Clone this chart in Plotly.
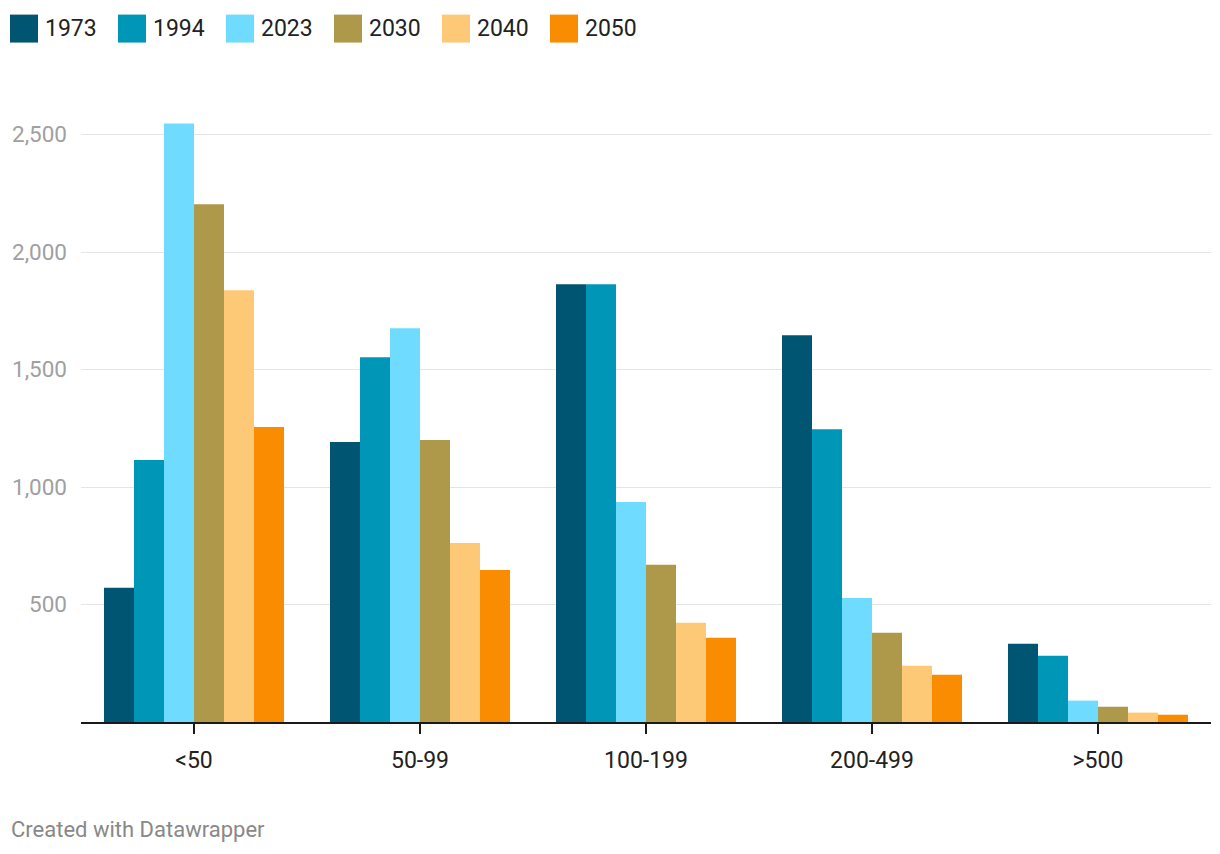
import plotly.graph_objects as go

categories = ["<50", "50-99", "100-199", "200-499", ">500"]
years = ["1973", "1994", "2023", "2030", "2040", "2050"]
values_1973 = [571, 1191, 1863, 1646, 333]
values_1994 = [1115, 1552, 1863, 1246, 282]
values_2023 = [2547, 1676, 936, 528, 91]
values_2030 = [2203, 1200, 669, 380, 65]
values_2040 = [1837, 762, 422, 239, 40]
values_2050 = [1255, 647, 358, 201, 31]
series = [values_1973, values_1994, values_2023, values_2030, values_2040, values_2050]
colors = ["#005572", "#0096b7", "#6edbff", "#ae984a", "#fec977", "#f98c00"]
y_ticks = [500, 1000, 1500, 2000, 2500]
y_tick_labels = ["500", "1,000", "1,500", "2,000", "2,500"]

W, H = 1220, 854
L, R = 81, 9
y0_px = 722.3
px_per_unit = 0.2353
ymax = 2600
plot_h = ymax * px_per_unit
T = y0_px - plot_h
B = H - y0_px
plot_w = W - L - R

def px_x(px):
    return (px - L) / plot_w

def px_y(py):
    return (y0_px - py) / plot_h

fig = go.Figure()
for yr, vals, c in zip(years, series, colors):
    fig.add_trace(go.Bar(name=yr, x=categories, y=vals, marker=dict(color=c, line=dict(width=0)),
                         showlegend=False))

shapes = []
annotations = []
sw_x = [10, 118, 226, 334, 442, 550]
for i, (yr, c) in enumerate(zip(years, colors)):
    x0 = sw_x[i]
    shapes.append(dict(type="rect", xref="paper", yref="paper",
                       x0=px_x(x0), x1=px_x(x0 + 28), y0=px_y(42), y1=px_y(14),
                       fillcolor=c, line=dict(width=0)))
    annotations.append(dict(xref="paper", yref="paper", x=px_x(x0 + 33), y=px_y(28),
                            text=yr, showarrow=False, xanchor="left", yanchor="middle",
                            font=dict(family="Roboto", size=23, color="#222222")))

annotations.append(dict(xref="paper", yref="paper", x=px_x(9), y=px_y(830),
                        text="Created with Datawrapper", showarrow=False,
                        xanchor="left", yanchor="middle",
                        font=dict(family="Roboto", size=22, color="#888888")))

fig.update_layout(
    width=W, height=H,
    margin=dict(l=L, r=R, t=T, b=B, pad=0),
    paper_bgcolor="white", plot_bgcolor="white",
    barmode="group", bargap=0.2035, bargroupgap=0,
    shapes=shapes, annotations=annotations,
    font=dict(family="Roboto"),
)
fig.update_xaxes(
    showgrid=False, showline=True, linecolor="#1a1a1a", linewidth=2,
    ticks="outside", ticklen=10, tickwidth=2, tickcolor="#1a1a1a",
    tickfont=dict(family="Roboto", size=23, color="#222222"),
    ticklabelstandoff=6,
)
fig.update_yaxes(
    range=[0, ymax], tickvals=y_ticks, ticktext=y_tick_labels,
    showgrid=True, gridcolor="#e5e5e5", gridwidth=1.3,
    zeroline=False, showline=False, ticks="",
    tickfont=dict(family="Roboto", size=22.5, color="#a0a0a0"),
    ticklabelstandoff=13,
)

fig.write_html("out.html", config={"displayModeBar": False},
               post_script="document.body.style.margin='0';document.body.style.overflow='hidden';")
